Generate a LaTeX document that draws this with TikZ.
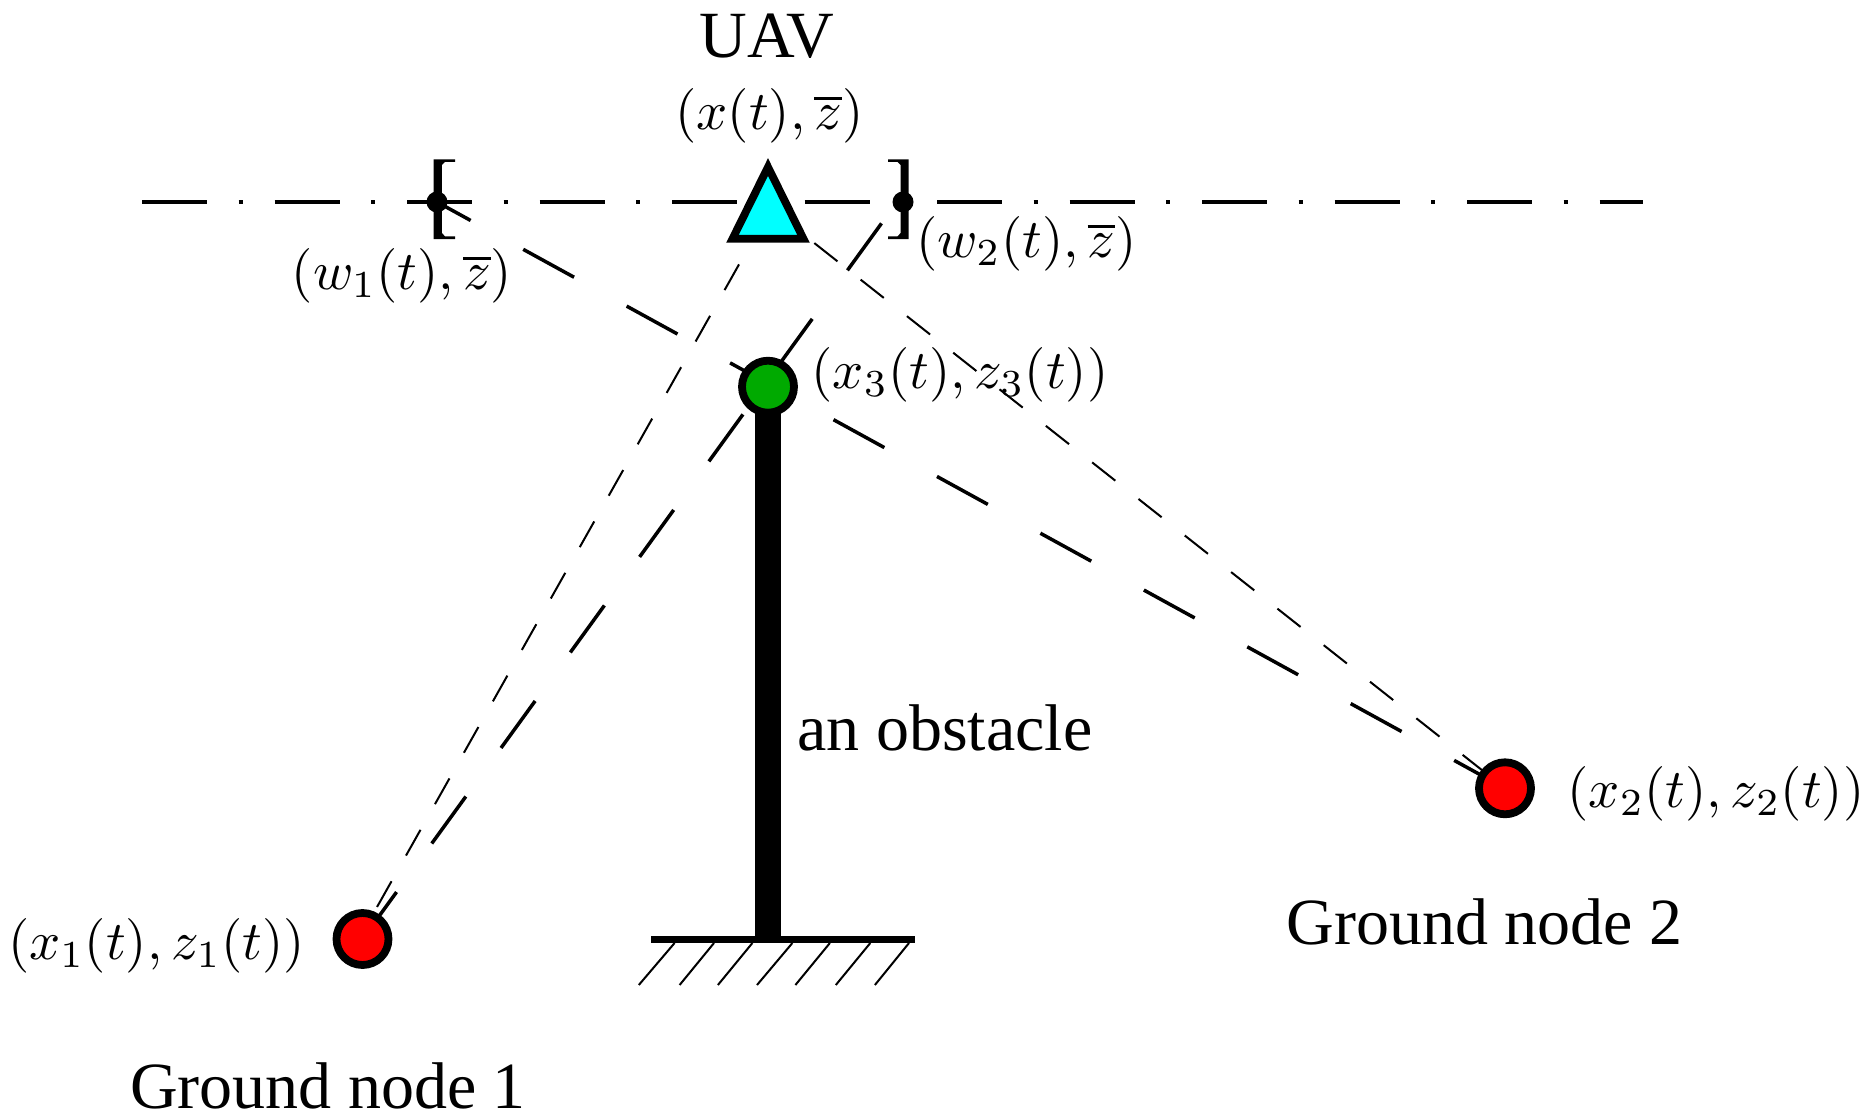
\documentclass[tikz,border=0pt]{standalone}
\usepackage{fix-cm}
\usepackage[no-math]{fontspec}
\newfontfamily\txtfont{Liberation Serif}
\usetikzlibrary{backgrounds}
\tikzset{
  mathlabel/.style={inner sep=0pt,scale=2.73},
  textlabel/.style={inner sep=0pt,font=\txtfont\fontsize{33}{38}\selectfont},
  groundnode/.style={circle,draw=black,fill=red,line width=3.9pt,minimum size=26pt,inner sep=0pt},
  relaynode/.style={circle,draw=black,fill=nodegreen,line width=3.9pt,minimum size=26pt,inner sep=0pt},
  enddot/.style={circle,fill=black,minimum size=10.5pt,inner sep=0pt},
  directlink/.style={line width=1.75pt,dash pattern=on 29pt off 30pt},
  relaylink/.style={line width=1pt,dash pattern=on 14.75pt off 14.75pt},
  trajectory/.style={line width=1.7pt,dash pattern=on 32.5pt off 15.8pt on 2.15pt off 15.8pt},
  hatchline/.style={line width=1pt}
}
\definecolor{nodegreen}{RGB}{0,170,0}
\definecolor{uavcyan}{RGB}{0,255,255}
\begin{document}
\begin{tikzpicture}[x=0.5pt,y=-0.5pt]
\useasboundingbox (0,0) rectangle (1865,1113);
% key points
\coordinate (axL) at (142,202);
\coordinate (axR) at (1643,202);
\coordinate (uavC) at (768,213);
\coordinate (uavD) at (768,206.5);
\coordinate (gOneThin) at (359,939);
\coordinate (wTwoEnd) at (897,202);
\coordinate (obsBase) at (768,939.5);
\coordinate (grL) at (651.4,939.5);
\coordinate (grR) at (915.3,939.5);
% nodes
\node[groundnode] (g1) at (362.5,939) {};
\node[groundnode] (g2) at (1505,788.3) {};
\node[relaynode] (g3) at (768,386.7) {};
\node[enddot] (w1) at (437,202) {};
\node[enddot] (w2) at (903,202) {};
% UAV triangle
\draw[fill=uavcyan,line width=3.9pt,miter limit=10,line join=miter] (768,167) -- (732.5,238.8) -- (803.5,238.8) -- cycle;
% brackets
\fill (433.6,159.3) -- (455,159.3) -- (455,162) -- (445,162) -- (441.8,165) -- (441.8,233) -- (445,236.3) -- (455,236.3) -- (455,239) -- (433.6,239) -- cycle;
\fill (908.6,159.3) -- (888,159.3) -- (888,162) -- (897.5,162) -- (900.7,165) -- (900.7,233) -- (897.5,236.3) -- (888,236.3) -- (888,239) -- (908.6,239) -- cycle;
% labels
\node[textlabel] (lUAV) at (767,36) {UAV};
\node[mathlabel] (lx) at (769.5,116) {$(x(t),\overline{z})$};
\node[mathlabel] (lw1) at (402,276) {$(w_1(t),\overline{z})$};
\node[mathlabel] (lw2) at (1026.5,244) {$(w_2(t),\overline{z})$};
\node[mathlabel] (lx3) at (960,375) {$(x_3(t),z_3(t))$};
\node[mathlabel] (lx2) at (1716,794) {$(x_2(t),z_2(t))$};
\node[mathlabel] (lx1) at (156.4,946) {$(x_1(t),z_1(t))$};
\node[textlabel] (lobs) at (945,728) {an obstacle};
\node[textlabel] (lg2) at (1484.5,922) {Ground node 2};
\node[textlabel] (lg1) at (328,1086) {Ground node 1};
% connectors under the nodes
\begin{scope}[on background layer]
  \draw[trajectory] (axL) -- (axR);
  \draw[directlink] (g1.center) -- (wTwoEnd);
  \draw[directlink] (g2.center) -- (w1.center);
  \draw[relaylink] (uavC) -- (gOneThin);
  \draw[relaylink] (uavD) -- (g2.center);
  \draw[line width=12.7pt] (g3.center) -- (obsBase);
\end{scope}
% ground with hatching
\draw[line width=3.8pt] (grL) -- (grR);
\foreach \xa/\xb in {674.6/638.8,714/679.6,752.4/717.9,792.4/757,829.9/795.4,870.3/835.8,909/874.9}
  \draw[hatchline] (\xa,943) -- (\xb,985);
\end{tikzpicture}
\end{document}
